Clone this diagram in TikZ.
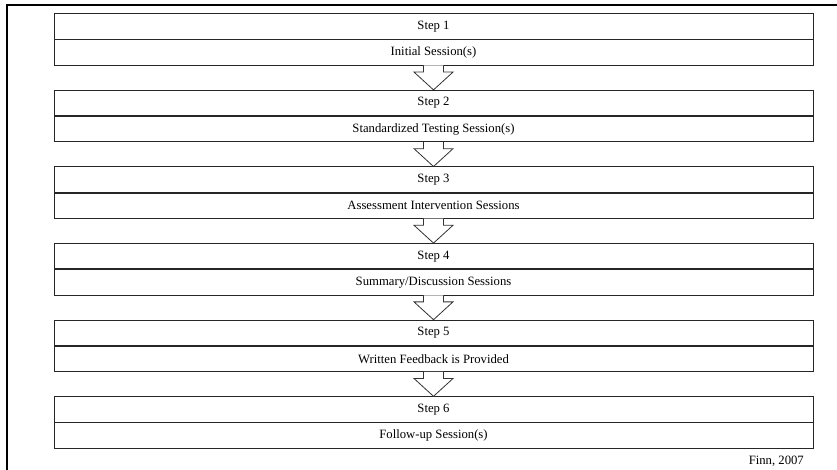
\documentclass[tikz,border=0pt]{standalone}
\usepackage{fontspec}
\setmainfont{Liberation Serif}
\usetikzlibrary{calc}
\begin{document}
\begin{tikzpicture}[x=1pt,y=-1pt,
  row/.style={draw=black!85, line width=0.8pt, minimum width=759pt,
    minimum height=25.3pt, inner sep=0pt, anchor=north,
    font=\fontsize{12.7}{14}\selectfont},
  flowarrow/.style={draw=black!80, line width=0.8pt, fill=white},
  cite/.style={anchor=base east, inner sep=0pt, font=\fontsize{12.7}{14}\selectfont}]
\useasboundingbox (0,0) rectangle (837,470);
% page frame
\draw[line width=2pt] (7,471) -- (7,5) -- (838,5);
% the six steps, each a title row over a description row
\foreach \i/\txt in {1/{Initial Session(s)},
                     2/{Standardized Testing Session(s)},
                     3/{Assessment Intervention Sessions},
                     4/{Summary/Discussion Sessions},
                     5/{Written Feedback is Provided},
                     6/{Follow-up Session(s)}}{
  \node[row] (s\i) at (433.5,{13.3+76.6*(\i-1)}) {Step \i};
  \node[row] (a\i) at (s\i.south) {\txt};
}
% hollow arrows linking consecutive steps
\foreach \i [evaluate=\i as \j using int(\i+1)] in {1,...,5}{
  \draw[flowarrow]
    ($(a\i.south)+(-10,0)$)
    |- ($(a\i.south)!0.27!(s\j.north)+(-19.5,0)$)
    -- (s\j.north)
    -- ($(a\i.south)!0.27!(s\j.north)+(19.5,0)$)
    -| ($(a\i.south)+(10,0)$);
}
\node[cite] (src) at (804,464) {Finn, 2007};
\end{tikzpicture}
\end{document}
